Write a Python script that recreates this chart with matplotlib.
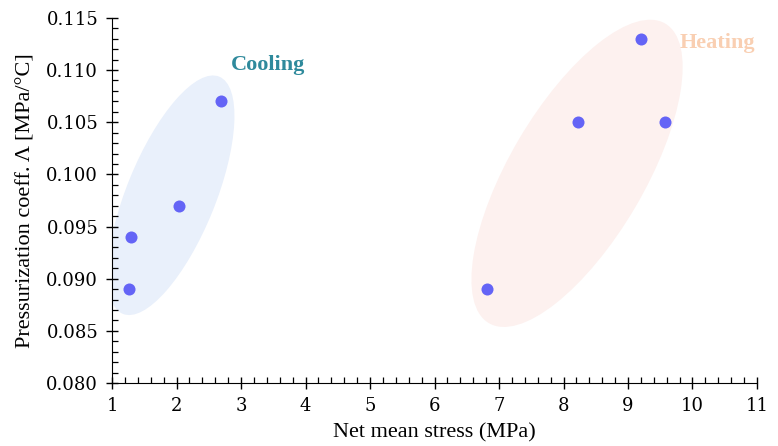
import numpy as np
import matplotlib
matplotlib.use('Agg')
import matplotlib.pyplot as plt
from matplotlib.patches import Ellipse
from matplotlib.ticker import MultipleLocator
from matplotlib.transforms import Affine2D

plt.rcParams['font.family'] = ['Liberation Serif', 'DejaVu Serif']

# 数据: 净平均应力 vs 增压系数
cool_stress = [1.26, 1.30, 2.04, 2.69]
cool_lambda = [0.089, 0.094, 0.097, 0.107]
heat_stress = [6.82, 8.22, 9.20, 9.57]
heat_lambda = [0.089, 0.105, 0.113, 0.105]

XLIM = (1, 11)
YLIM = (0.080, 0.115)

fig = plt.figure(figsize=(7.78, 4.46), dpi=100)
ax = fig.add_axes([0.144, 0.141, 0.829, 0.819])
ax.set_xlim(*XLIM)
ax.set_ylim(*YLIM)

# 椭圆在"等比例"空间里画, 再把 y 缩回数据单位
k = (0.819 * 446 / (YLIM[1] - YLIM[0])) / (0.829 * 778 / (XLIM[1] - XLIM[0]))
tr = Affine2D().scale(1, 1 / k) + ax.transData
ax.add_patch(Ellipse((1.915, 0.0980 * k), 3.97, 1.38, angle=67.9,
                     facecolor='#e9f0fb', edgecolor='none', transform=tr, zorder=1))
ax.add_patch(Ellipse((8.21, 0.1001 * k), 5.39, 2.09, angle=59.5,
                     facecolor='#fdf1ef', edgecolor='none', transform=tr, zorder=1))

ax.scatter(cool_stress, cool_lambda, s=75, color='#6464f6', zorder=3, linewidths=0)
ax.scatter(heat_stress, heat_lambda, s=75, color='#6464f6', zorder=3, linewidths=0)

ax.text(3.42, 0.1105, 'Cooling', color='#2f8a9c', fontsize=16, fontweight='bold',
        ha='center', va='center')
ax.text(10.38, 0.1126, 'Heating', color='#f9cfb2', fontsize=16, fontweight='bold',
        ha='center', va='center')

for s in ('top', 'right'):
    ax.spines[s].set_visible(False)
ax.xaxis.set_major_locator(MultipleLocator(1))
ax.xaxis.set_minor_locator(MultipleLocator(0.2))
ax.yaxis.set_major_locator(MultipleLocator(0.005))
ax.yaxis.set_minor_locator(MultipleLocator(0.001))
ax.yaxis.set_major_formatter(plt.FormatStrFormatter('%.3f'))
ax.tick_params(which='major', direction='inout', length=8, width=1, labelsize=13, pad=6)
ax.tick_params(which='minor', direction='in', length=4, width=0.9)
for lbl in ax.get_xticklabels() + ax.get_yticklabels():
    lbl.set_family('DejaVu Serif')

ax.set_xlabel('Net mean stress (MPa)', fontsize=16, labelpad=6)
ax.set_ylabel('Pressurization coeff. Λ [MPa/°C]', fontsize=16, labelpad=8)

plt.savefig('out.png', dpi=100)
